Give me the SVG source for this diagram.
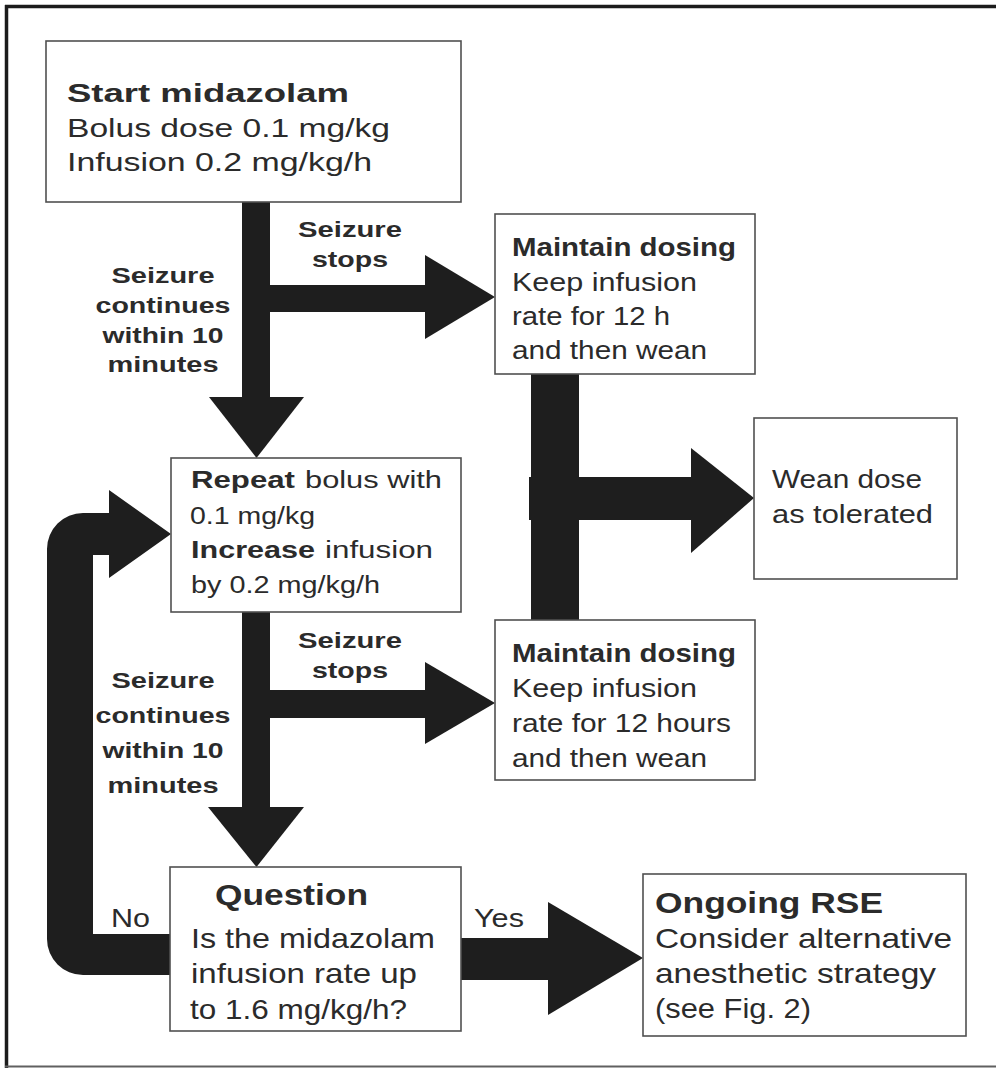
<svg xmlns="http://www.w3.org/2000/svg" width="996" height="1069" viewBox="0 0 996 1069">
  <style>
    .frame { fill: none; stroke: #1c1c1c; stroke-width: 3.5; }
    .box { fill: #ffffff; stroke: #505050; stroke-width: 1.6; }
    .arrow { fill: #1e1e1e; stroke: none; }
    text { font-family: "Liberation Sans", Arial, Helvetica, sans-serif; fill: #2b2b2b; }
    .b { font-weight: bold; }
    .t1 { font-size: 26.5px; }
    .t2 { font-size: 25px; }
    .t3 { font-size: 23.5px; }
    .lab { font-size: 22.5px; font-weight: bold; text-anchor: middle; }
    .t4 { font-size: 28px; }
    .t4b { font-size: 29px; font-weight: bold; }
    .yn { font-size: 25px; }
  </style>

  <rect width="996" height="1069" fill="#ffffff"/>

  <!-- outer frame -->
  <g id="frame">
    <line x1="5" y1="6.5" x2="996" y2="6.5" class="frame"/>
    <line x1="6.5" y1="5" x2="6.5" y2="1068" class="frame"/>
    <line x1="5" y1="1066.5" x2="996" y2="1066.5" stroke="#606060" stroke-width="2"/>
  </g>

  <!-- block arrows -->
  <g id="connectors">
    <!-- start -> repeat / maintain -->
    <rect class="arrow" x="242" y="201" width="28" height="197"/>
    <polygon class="arrow" points="209,397 304,397 256.5,458"/>
    <rect class="arrow" x="269" y="285" width="157" height="27"/>
    <polygon class="arrow" points="425,255 425,339 495,297"/>

    <!-- repeat -> question / maintain -->
    <rect class="arrow" x="242" y="611" width="28" height="197"/>
    <polygon class="arrow" points="208,807 304,807 256.5,867"/>
    <rect class="arrow" x="269" y="690" width="157" height="28"/>
    <polygon class="arrow" points="425,662 425,744 495,703"/>

    <!-- maintain dosing -> wean -->
    <rect class="arrow" x="531" y="373" width="48" height="248"/>
    <rect class="arrow" x="529" y="477" width="163" height="43"/>
    <polygon class="arrow" points="691,448 691,553 754,498"/>

    <!-- question: no (loop back) -->
    <path class="arrow" d="M171,934 L93,934 L93,555 L109,555 L109,578 L171,534 L109,490 L109,513 L83,513 A36,36 0 0 0 47,549 L47,939 A36,36 0 0 0 83,975 L171,975 Z"/>

    <!-- question: yes -->
    <rect class="arrow" x="460" y="938" width="89" height="42"/>
    <polygon class="arrow" points="548,902 548,1015 643,958"/>
  </g>

  <!-- arrow labels -->
  <g id="labels">
    <text class="lab" x="350" y="237" textLength="104" lengthAdjust="spacingAndGlyphs">Seizure</text>
    <text class="lab" x="350" y="267" textLength="76" lengthAdjust="spacingAndGlyphs">stops</text>
    <text class="lab" x="163" y="283" textLength="103" lengthAdjust="spacingAndGlyphs">Seizure</text>
    <text class="lab" x="163" y="313" textLength="135" lengthAdjust="spacingAndGlyphs">continues</text>
    <text class="lab" x="163" y="343" textLength="121" lengthAdjust="spacingAndGlyphs">within 10</text>
    <text class="lab" x="163" y="372" textLength="111" lengthAdjust="spacingAndGlyphs">minutes</text>

    <text class="lab" x="350" y="648" textLength="104" lengthAdjust="spacingAndGlyphs">Seizure</text>
    <text class="lab" x="350" y="678" textLength="76" lengthAdjust="spacingAndGlyphs">stops</text>
    <text class="lab" x="163" y="688" textLength="103" lengthAdjust="spacingAndGlyphs">Seizure</text>
    <text class="lab" x="163" y="723" textLength="135" lengthAdjust="spacingAndGlyphs">continues</text>
    <text class="lab" x="163" y="758" textLength="121" lengthAdjust="spacingAndGlyphs">within 10</text>
    <text class="lab" x="163" y="793" textLength="111" lengthAdjust="spacingAndGlyphs">minutes</text>

    <text class="yn" x="111" y="927" textLength="39" lengthAdjust="spacingAndGlyphs">No</text>
    <text class="yn" x="474" y="927" textLength="50" lengthAdjust="spacingAndGlyphs">Yes</text>
  </g>

  <g id="start">
    <rect class="box" x="46" y="41" width="415" height="161"/>
    <text class="t1 b" x="67" y="102" textLength="282" lengthAdjust="spacingAndGlyphs">Start midazolam</text>
    <text class="t1" x="67" y="137" textLength="323" lengthAdjust="spacingAndGlyphs">Bolus dose 0.1 mg/kg</text>
    <text class="t1" x="67" y="171" textLength="305" lengthAdjust="spacingAndGlyphs">Infusion 0.2 mg/kg/h</text>
  </g>

  <g id="maintain1">
    <rect class="box" x="495" y="214" width="260" height="160"/>
    <text class="t2 b" x="512" y="256" textLength="224" lengthAdjust="spacingAndGlyphs">Maintain dosing</text>
    <text class="t2" x="512" y="291" textLength="185" lengthAdjust="spacingAndGlyphs">Keep infusion</text>
    <text class="t2" x="512" y="325" textLength="158" lengthAdjust="spacingAndGlyphs">rate for 12 h</text>
    <text class="t2" x="512" y="359" textLength="195" lengthAdjust="spacingAndGlyphs">and then wean</text>
  </g>

  <g id="wean">
    <rect class="box" x="754" y="418" width="203" height="161"/>
    <text class="t2" x="772" y="488" textLength="150" lengthAdjust="spacingAndGlyphs">Wean dose</text>
    <text class="t2" x="772" y="523" textLength="161" lengthAdjust="spacingAndGlyphs">as tolerated</text>
  </g>

  <g id="repeat">
    <rect class="box" x="171" y="458" width="290" height="154"/>
    <text class="t3" y="488"><tspan class="b" x="191" textLength="104" lengthAdjust="spacingAndGlyphs">Repeat</tspan><tspan x="305" textLength="137" lengthAdjust="spacingAndGlyphs">bolus with</tspan></text>
    <text class="t3" x="190" y="524" textLength="125" lengthAdjust="spacingAndGlyphs">0.1 mg/kg</text>
    <text class="t3" y="558"><tspan class="b" x="191" textLength="124" lengthAdjust="spacingAndGlyphs">Increase</tspan><tspan x="325" textLength="108" lengthAdjust="spacingAndGlyphs">infusion</tspan></text>
    <text class="t3" x="191" y="593" textLength="189" lengthAdjust="spacingAndGlyphs">by 0.2 mg/kg/h</text>
  </g>

  <g id="maintain2">
    <rect class="box" x="495" y="620" width="260" height="160"/>
    <text class="t2 b" x="512" y="662" textLength="224" lengthAdjust="spacingAndGlyphs">Maintain dosing</text>
    <text class="t2" x="512" y="697" textLength="185" lengthAdjust="spacingAndGlyphs">Keep infusion</text>
    <text class="t2" x="512" y="732" textLength="219" lengthAdjust="spacingAndGlyphs">rate for 12 hours</text>
    <text class="t2" x="512" y="767" textLength="195" lengthAdjust="spacingAndGlyphs">and then wean</text>
  </g>

  <g id="question">
    <rect class="box" x="170" y="867" width="291" height="164"/>
    <text class="t4b" x="215" y="905" textLength="153" lengthAdjust="spacingAndGlyphs">Question</text>
    <text class="t4" x="191" y="948" textLength="244" lengthAdjust="spacingAndGlyphs">Is the midazolam</text>
    <text class="t4" x="191" y="983" textLength="226" lengthAdjust="spacingAndGlyphs">infusion rate up</text>
    <text class="t4" x="190" y="1019" textLength="217" lengthAdjust="spacingAndGlyphs">to 1.6 mg/kg/h?</text>
  </g>

  <g id="ongoing">
    <rect class="box" x="643" y="874" width="323" height="162"/>
    <text class="t4b" x="655" y="913" textLength="228" lengthAdjust="spacingAndGlyphs">Ongoing RSE</text>
    <text class="t4" x="655" y="948" textLength="297" lengthAdjust="spacingAndGlyphs">Consider alternative</text>
    <text class="t4" x="655" y="983" textLength="281" lengthAdjust="spacingAndGlyphs">anesthetic strategy</text>
    <text class="t4" x="655" y="1018" textLength="156" lengthAdjust="spacingAndGlyphs">(see Fig. 2)</text>
  </g>
</svg>
